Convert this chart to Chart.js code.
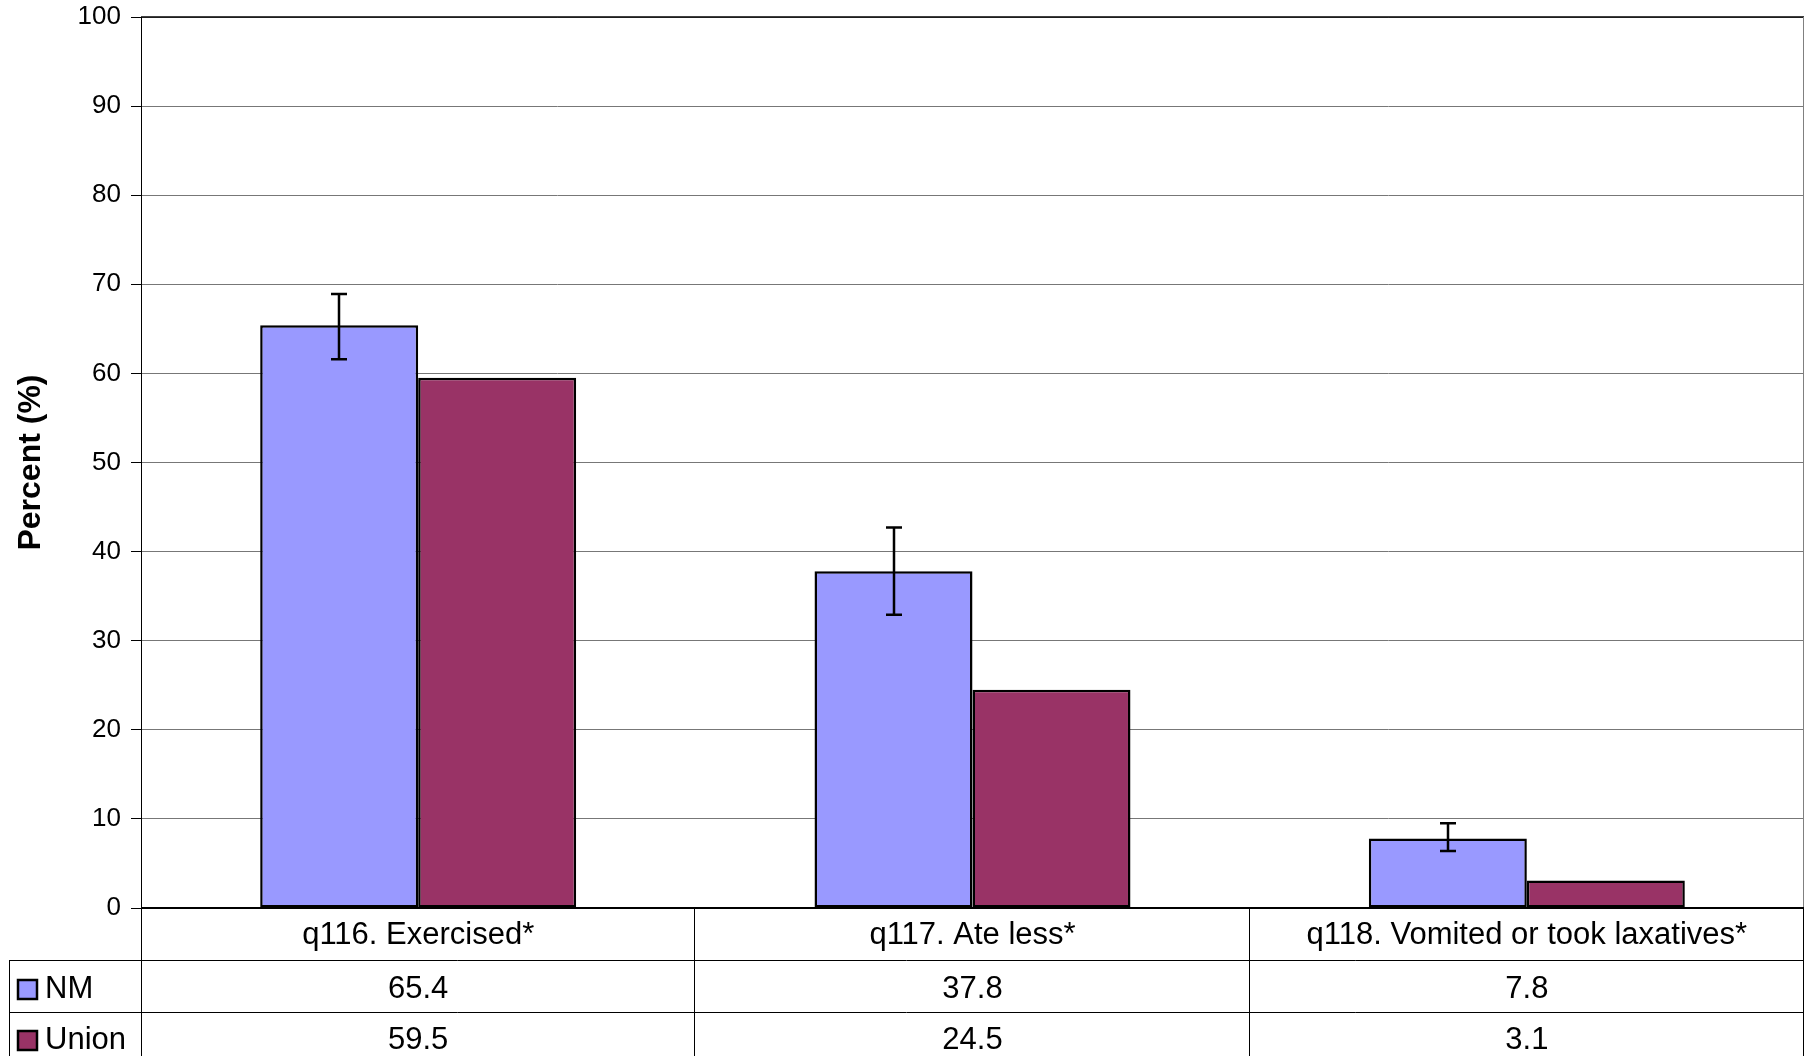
<!DOCTYPE html>
<html><head><meta charset="utf-8">
<script src="https://cdn.jsdelivr.net/npm/chart.js@4.4.1/dist/chart.umd.min.js"></script>
<style>html,body{margin:0;padding:0;background:#fff;}#wrap{width:1811px;height:1056px;}</style>
</head><body><div id="wrap"><canvas id="c" width="1811" height="1056"></canvas></div>
<script>
const categories = ["q116. Exercised*", "q117. Ate less*", "q118. Vomited or took laxatives*"];
const seriesNames = ["NM", "Union"];
const nmValues = [65.4, 37.8, 7.8];
const unionValues = [59.5, 24.5, 3.1];
const nmErrLow = [61.6, 32.9, 6.4];
const nmErrHigh = [68.9, 42.7, 9.5];
const yTicks = [0,10,20,30,40,50,60,70,80,90,100];
const colors = ["#9999FF", "#993366"];
const FONT = "'Liberation Sans', Arial, sans-serif";

const errorBars = {
  id: 'errorBars',
  afterDatasetsDraw(chart) {
    const ctx = chart.ctx, y = chart.scales.y;
    const meta = chart.getDatasetMeta(0);
    ctx.save();
    ctx.strokeStyle = '#000'; ctx.lineWidth = 2.5;
    meta.data.forEach((bar, i) => {
      const yt = y.getPixelForValue(nmErrHigh[i]), yb = y.getPixelForValue(nmErrLow[i]);
      const x = Math.round(bar.x), cw = 8;
      ctx.beginPath();
      ctx.moveTo(x, yt); ctx.lineTo(x, yb);
      ctx.moveTo(x - cw, yt); ctx.lineTo(x + cw, yt);
      ctx.moveTo(x - cw, yb); ctx.lineTo(x + cw, yb);
      ctx.stroke();
    });
    ctx.restore();
  }
};

const dataTable = {
  id: 'dataTable',
  afterDraw(chart) {
    const ctx = chart.ctx, ca = chart.chartArea, xs = chart.scales.x;
    const n = categories.length;
    const colW = (ca.right - ca.left) / n;
    const r0 = ca.bottom, r1 = r0 + 52, r2 = r1 + 52, r3 = chart.height + 2;
    const legL = 9;
    ctx.save();
    ctx.strokeStyle = '#000'; ctx.lineWidth = 1.5;
    ctx.beginPath();
    ctx.moveTo(ca.left, Math.round(ca.top)); ctx.lineTo(ca.right, Math.round(ca.top));
    ctx.stroke();
    ctx.strokeStyle = '#808080'; ctx.lineWidth = 1;
    ctx.beginPath();
    ctx.moveTo(Math.round(ca.right) - 0.5, ca.top); ctx.lineTo(Math.round(ca.right) - 0.5, ca.bottom);
    ctx.stroke();
    ctx.strokeStyle = '#000'; ctx.lineWidth = 1;
    ctx.beginPath();
    const L = Math.round(ca.left) + 0.5;
    ctx.moveTo(L, r0); ctx.lineTo(L, r3);
    for (let i = 1; i <= n; i++) {
      const x = Math.round(ca.left + colW * i) - 0.5;
      ctx.moveTo(x, r0); ctx.lineTo(x, r3);
    }
    ctx.moveTo(legL + 0.5, r1); ctx.lineTo(legL + 0.5, r3);
    ctx.moveTo(legL, Math.round(r1) + 0.5); ctx.lineTo(ca.right, Math.round(r1) + 0.5);
    ctx.moveTo(legL, Math.round(r2) + 0.5); ctx.lineTo(ca.right, Math.round(r2) + 0.5);
    ctx.stroke();
    ctx.lineWidth = 2;
    ctx.beginPath(); ctx.moveTo(ca.left, Math.round(ca.bottom)); ctx.lineTo(ca.right, Math.round(ca.bottom)); ctx.stroke();
    ctx.fillStyle = '#000';
    ctx.font = '31px ' + FONT;
    ctx.textAlign = 'center'; ctx.textBaseline = 'middle';
    const rows = [nmValues, unionValues];
    const rowMid = [(r1 + r2) / 2 + 3, (r2 + r3) / 2 + 5];
    for (let i = 0; i < n; i++) {
      const cx = xs.getPixelForValue(i);
      ctx.fillText(categories[i], cx, (r0 + r1) / 2 + 1);
      ctx.fillText(rows[0][i].toFixed(1), cx, rowMid[0]);
      ctx.fillText(rows[1][i].toFixed(1), cx, rowMid[1]);
    }
    ctx.textAlign = 'left';
    seriesNames.forEach((s, k) => {
      const ym = rowMid[k];
      ctx.fillStyle = colors[k];
      ctx.fillRect(18, ym - 9, 19, 19);
      ctx.strokeStyle = '#000'; ctx.lineWidth = 2.5;
      ctx.strokeRect(18, ym - 9, 19, 19);
      ctx.fillStyle = '#000';
      ctx.fillText(s, 45, ym);
    });
    ctx.restore();
  }
};

new Chart(document.getElementById('c'), {
  type: 'bar',
  data: {
    labels: categories,
    datasets: [
      { label: seriesNames[0], data: nmValues, backgroundColor: colors[0], borderColor: '#000', borderWidth: 2.5, borderSkipped: false },
      { label: seriesNames[1], data: unionValues, backgroundColor: colors[1], borderColor: '#000', borderWidth: 2.5, borderSkipped: false }
    ]
  },
  options: {
    responsive: false,
    animation: false,
    devicePixelRatio: 1,
    layout: { padding: { top: 17, right: 7, left: 0, bottom: 0 } },
    plugins: { legend: { display: false }, tooltip: { enabled: false }, title: { display: false } },
    datasets: { bar: { categoryPercentage: 0.57, barPercentage: 1.0 } },
    scales: {
      x: {
        ticks: { display: false },
        grid: { display: false, drawTicks: false },
        border: { display: false },
        afterFit(scale) { scale.height = 148; scale.paddingLeft = 0; scale.paddingRight = 0; }
      },
      y: {
        min: 0, max: 100,
        afterBuildTicks(scale) { scale.ticks = yTicks.map(v => ({ value: v })); },
        ticks: { color: '#000', font: { family: FONT, size: 26 }, padding: 10 },
        grid: { color: '#777777', lineWidth: 1, tickLength: 10, tickColor: '#000' },
        border: { display: true, color: '#000', width: 1 },
        title: { display: true, text: 'Percent (%)', color: '#000', font: { family: FONT, size: 32, weight: 'bold' }, padding: { top: 12, bottom: 0 } },
        afterFit(scale) { scale.width = 141; scale.paddingTop = 0; scale.paddingBottom = 0; }
      }
    }
  },
  plugins: [errorBars, dataTable]
});
</script>
</body></html>
